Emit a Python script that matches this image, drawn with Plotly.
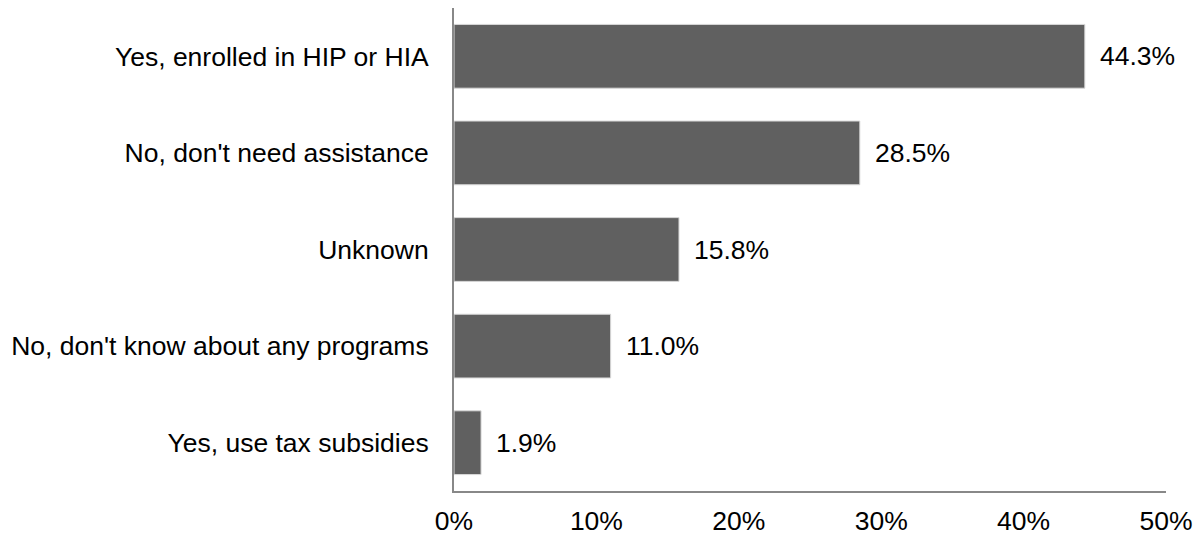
import plotly.graph_objects as go

categories = ["Yes, enrolled in HIP or HIA", "No, don't need assistance", "Unknown",
              "No, don't know about any programs", "Yes, use tax subsidies"]
values = [44.3, 28.5, 15.8, 11.0, 1.9]
labels = ["44.3%", "28.5%", "15.8%", "11.0%", "1.9%"]
x_ticks = [0, 10, 20, 30, 40, 50]
x_tick_labels = ["0%", "10%", "20%", "30%", "40%", "50%"]

FONT_SIZE = 26.5

fig = go.Figure()
fig.add_trace(go.Bar(
    y=categories, x=values, orientation="h",
    marker=dict(color="#606060", line=dict(color="#d9d9d9", width=1)),
    hoverinfo="skip",
))
for c, v, t in zip(categories, values, labels):
    fig.add_annotation(x=v, y=c, text=t, showarrow=False, xanchor="left",
                       xshift=13, font=dict(size=FONT_SIZE, color="#000000"))

fig.update_layout(
    width=1200, height=539,
    margin=dict(l=454, r=34, t=8, b=48, autoexpand=False),
    plot_bgcolor="white", paper_bgcolor="white",
    font=dict(family="Liberation Sans, Arial, sans-serif", size=FONT_SIZE, color="#000000"),
    bargap=0.34, showlegend=False,
    xaxis=dict(range=[0, 50], tickvals=x_ticks, ticktext=x_tick_labels, automargin=False,
               showgrid=False, zeroline=False, showline=True, linecolor="#888888",
               linewidth=2, ticks="outside", ticklen=5, tickcolor="rgba(0,0,0,0)"),
    yaxis=dict(categoryorder="array", categoryarray=categories[::-1], automargin=False,
               showgrid=False, zeroline=False, showline=True, linecolor="#888888",
               linewidth=2, ticks="", ticklabelstandoff=18),
)
fig.write_html("out.html", config={"displayModeBar": False},
               post_script="document.body.style.margin='0';")
